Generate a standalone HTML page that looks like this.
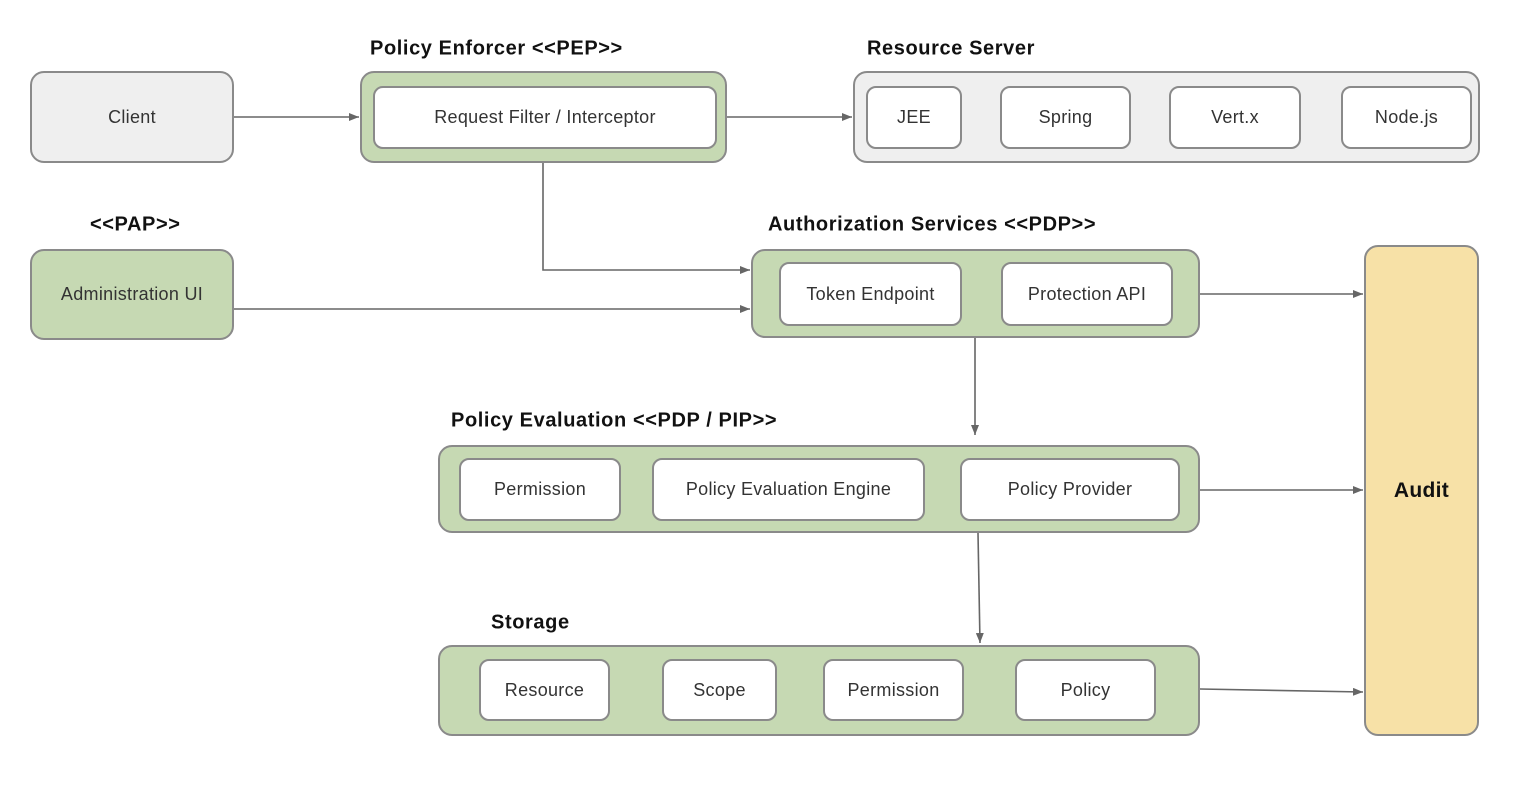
<!DOCTYPE html>
<html><head><style>
body{margin:0;width:1534px;height:798px;background:#fff;position:relative;overflow:hidden;font-family:"Liberation Sans",sans-serif;}
.b{position:absolute;box-sizing:border-box;border:2px solid #8a8a8a;border-radius:14px;display:flex;align-items:center;justify-content:center;font-size:18px;letter-spacing:0.3px;color:#333;}
.g{background:#c6d9b3;}
.gr{background:#efefef;}
.w{background:#fff;border-radius:10px;}
.l{position:absolute;font-weight:bold;font-size:20px;letter-spacing:0.6px;color:#111;white-space:nowrap;transform:translateY(-50%);}
svg{position:absolute;left:0;top:0;}
</style></head><body>
<div class="b gr" style="left:30px;top:71px;width:204px;height:92px">Client</div>
<div class="l" style="left:370px;top:49px">Policy Enforcer &lt;&lt;PEP&gt;&gt;</div>
<div class="b g" style="left:360px;top:71px;width:367px;height:92px"></div>
<div class="b w" style="left:373px;top:86px;width:344px;height:63px">Request Filter / Interceptor</div>
<div class="l" style="left:867px;top:49px">Resource Server</div>
<div class="b gr" style="left:853px;top:71px;width:627px;height:92px"></div>
<div class="b w" style="left:866px;top:86px;width:96px;height:63px">JEE</div>
<div class="b w" style="left:1000px;top:86px;width:131px;height:63px">Spring</div>
<div class="b w" style="left:1169px;top:86px;width:132px;height:63px">Vert.x</div>
<div class="b w" style="left:1341px;top:86px;width:131px;height:63px">Node.js</div>
<div class="l" style="left:90px;top:225px">&lt;&lt;PAP&gt;&gt;</div>
<div class="b g" style="left:30px;top:249px;width:204px;height:91px">Administration UI</div>
<div class="l" style="left:768px;top:225px">Authorization Services &lt;&lt;PDP&gt;&gt;</div>
<div class="b g" style="left:751px;top:249px;width:449px;height:89px"></div>
<div class="b w" style="left:779px;top:262px;width:183px;height:64px">Token Endpoint</div>
<div class="b w" style="left:1001px;top:262px;width:172px;height:64px">Protection API</div>
<div class="b" style="left:1364px;top:245px;width:115px;height:491px;background:#f7e1a7;font-weight:bold;font-size:21px;color:#111">Audit</div>
<div class="l" style="left:451px;top:421px">Policy Evaluation &lt;&lt;PDP / PIP&gt;&gt;</div>
<div class="b g" style="left:438px;top:445px;width:762px;height:88px"></div>
<div class="b w" style="left:459px;top:458px;width:162px;height:63px">Permission</div>
<div class="b w" style="left:652px;top:458px;width:273px;height:63px">Policy Evaluation Engine</div>
<div class="b w" style="left:960px;top:458px;width:220px;height:63px">Policy Provider</div>
<div class="l" style="left:491px;top:623px">Storage</div>
<div class="b g" style="left:438px;top:645px;width:762px;height:91px"></div>
<div class="b w" style="left:479px;top:659px;width:131px;height:62px">Resource</div>
<div class="b w" style="left:662px;top:659px;width:115px;height:62px">Scope</div>
<div class="b w" style="left:823px;top:659px;width:141px;height:62px">Permission</div>
<div class="b w" style="left:1015px;top:659px;width:141px;height:62px">Policy</div>
<svg width="1534" height="798">
<defs><marker id="a" markerWidth="10" markerHeight="8" refX="10" refY="4" orient="auto" markerUnits="userSpaceOnUse"><path d="M0,0 L10,4 L0,8z" fill="#666"/></marker></defs>
<g stroke="#666" stroke-width="1.6" fill="none" marker-end="url(#a)">
<line x1="234" y1="117" x2="359" y2="117"/>
<line x1="727" y1="117" x2="852" y2="117"/>
<polyline points="543,163 543,270 750,270"/>
<line x1="234" y1="309" x2="750" y2="309"/>
<line x1="1200" y1="294" x2="1363" y2="294"/>
<line x1="975" y1="338" x2="975" y2="435"/>
<line x1="1200" y1="490" x2="1363" y2="490"/>
<line x1="978" y1="533" x2="980" y2="643"/>
<line x1="1200" y1="689" x2="1363" y2="692"/>
</g></svg>
</body></html>
